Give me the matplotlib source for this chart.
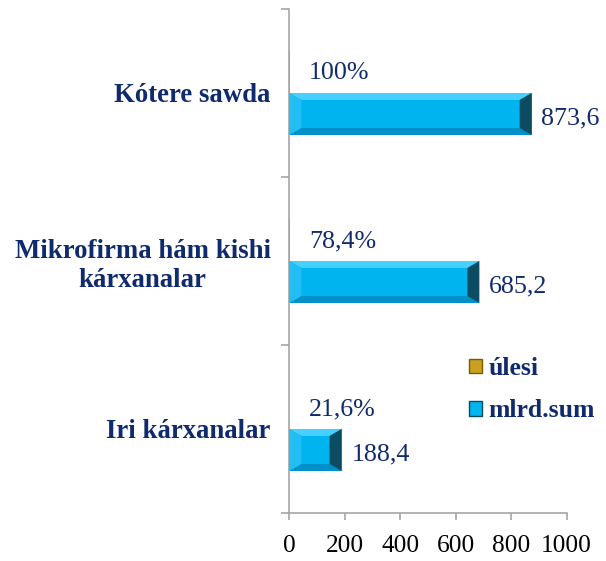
import matplotlib
matplotlib.use("Agg")
import matplotlib.pyplot as plt
from matplotlib.patches import Polygon, Patch
import numpy as np

categories = ["Iri kárxanalar", "Mikrofirma hám kishi\nkárxanalar", "Kótere sawda"]
mlrd_sum = [188.4, 685.2, 873.6]
ulesi = [0.216, 0.784, 1.0]
mlrd_labels = ["188,4", "685,2", "873,6"]
ulesi_labels = ["21,6%", "78,4%", "100%"]
xticks = [0, 200, 400, 600, 800, 1000]

navy = "#102A6E"
cyan = "#00B4F0"
gold = "#C9A020"
axis_gray = "#A6A6A6"

plt.rcParams["font.family"] = ["Liberation Serif", "DejaVu Serif"]

fig = plt.figure(figsize=(6.06, 5.61), dpi=100)
ax = fig.add_axes([289.3 / 606, 48 / 561, 277.4 / 606, 504 / 561])

y = np.arange(len(categories))
h = 0.25
bars_m = ax.barh(y - h / 2, mlrd_sum, height=h, color=cyan, zorder=2)
bars_u = ax.barh(y + h / 2, ulesi, height=h, color=gold, zorder=2)

ax.set_xlim(0, 1000)
ax.set_ylim(-0.5, 2.5)

# bevel effect on the cyan bars, derived from the bar geometry
px_x = 1000 / 277.4
px_y = 3 / 504.0
for b in bars_m:
    x0, y0 = b.get_x(), b.get_y()
    x1, y1 = x0 + b.get_width(), y0 + b.get_height()
    bx = min(12 * px_x, b.get_width() / 2)
    by = 7 * px_y
    top = Polygon([(x0, y1), (x1, y1), (x1 - bx, y1 - by), (x0 + bx, y1 - by)],
                  closed=True, color="#45D0FF", zorder=3, lw=0)
    bot = Polygon([(x0, y0), (x1, y0), (x1 - bx, y0 + by), (x0 + bx, y0 + by)],
                  closed=True, color="#0090C8", zorder=3, lw=0)
    right = Polygon([(x1, y0), (x1, y1), (x1 - bx, y1 - by), (x1 - bx, y0 + by)],
                    closed=True, color="#0B4C63", zorder=3, lw=0)
    left = Polygon([(x0, y0), (x0, y1), (x0 + bx, y1 - by), (x0 + bx, y0 + by)],
                   closed=True, color="#22BDF2", zorder=3, lw=0)
    for p in (top, bot, right, left):
        ax.add_patch(p)

for b, lab in zip(bars_m, mlrd_labels):
    ax.annotate(lab, (b.get_width(), b.get_y() + b.get_height() / 2),
                xytext=(7, -3), textcoords="offset points", ha="left", va="center",
                fontsize=18.7, color=navy, annotation_clip=False)
for b, lab in zip(bars_u, ulesi_labels):
    ax.annotate(lab, (b.get_width(), b.get_y() + b.get_height() / 2),
                xytext=(14, -1), textcoords="offset points", ha="left", va="center",
                fontsize=18.7, color=navy, annotation_clip=False)

# axes styling
for s in ("top", "right"):
    ax.spines[s].set_visible(False)
for s in ("left", "bottom"):
    ax.spines[s].set_color(axis_gray)
    ax.spines[s].set_linewidth(1.2)

ax.set_xticks(xticks)
ax.set_xticklabels([str(t) for t in xticks], fontsize=18.3, color="black")
ax.tick_params(axis="x", length=5, width=1.2, color=axis_gray, pad=11)

ax.set_yticks([-0.5, 0.5, 1.5, 2.5])
ax.set_yticklabels([])
ax.tick_params(axis="y", which="major", length=6, width=1.2, color=axis_gray)
ax.set_yticks(y, minor=True)
ax.set_yticklabels(categories, minor=True, fontsize=19.3, fontweight="bold",
                   color=navy, multialignment="center")
ax.tick_params(axis="y", which="minor", length=0, pad=13.5)
for t in ax.get_yticklabels(minor=True):
    t.set_y(t.get_position()[1])

handles = [Patch(facecolor=gold, edgecolor="#7A5C00", label="úlesi"),
           Patch(facecolor=cyan, edgecolor="#0A4A60", label="mlrd.sum")]
leg = ax.legend(handles=handles, loc="upper left", bbox_to_anchor=(0.565, 0.355),
                frameon=False, handlelength=0.5, handleheight=0.5,
                handletextpad=0.25, labelspacing=0.75,
                prop={"size": 18.5, "weight": "bold"})
for t in leg.get_texts():
    t.set_color(navy)

fig.savefig("out.png", dpi=100)
